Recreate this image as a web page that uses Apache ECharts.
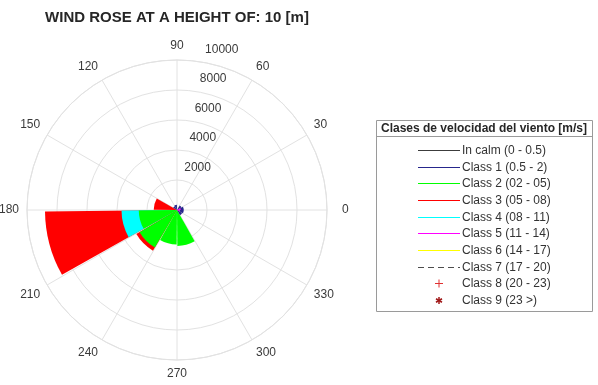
<!DOCTYPE html>
<html>
<head>
<meta charset="utf-8">
<script src="https://cdn.jsdelivr.net/npm/echarts@6/dist/echarts.min.js"></script>
<style>
  html, body { margin: 0; padding: 0; background: #ffffff; }
  #chart { width: 598px; height: 385px; }
</style>
</head>
<body>
<div id="chart"></div>
<script>
// Direction bins (degrees, counter-clockwise from east), 30° each
const directionBins = ['0-30', '30-60', '60-90', '90-120', '120-150', '150-180',
                       '180-210', '210-240', '240-270', '270-300', '300-330', '330-360'];
const radiusMax = 10000;
const radiusStep = 2000;
const angleStep = 30;

// Counts per wind-speed class in each direction bin
const calm   = [0, 0, 0, 0, 0, 0, 0, 0, 0, 0, 0, 0];
const class1 = [450, 350, 0, 350, 300, 0, 0, 0, 0, 0, 400, 450];
const class2 = [0, 0, 0, 0, 0, 0, 2550, 2900, 2300, 2400, 0, 0];
const class3 = [0, 0, 0, 0, 0, 1550, 8800, 3150, 0, 0, 0, 0];
const class4 = [0, 0, 0, 0, 0, 0, 3700, 0, 0, 0, 0, 0];
const class5 = [250, 0, 0, 0, 0, 0, 0, 0, 0, 0, 0, 200];
const class6 = [0, 0, 0, 0, 0, 0, 0, 0, 0, 0, 0, 0];
const class7 = [0, 0, 0, 0, 0, 0, 0, 0, 0, 0, 0, 0];
const class8 = [0, 0, 0, 0, 0, 0, 0, 0, 0, 0, 0, 0];
const class9 = [0, 0, 0, 0, 0, 0, 0, 0, 0, 0, 0, 0];

const classNames = [
  'In calm (0 - 0.5)', 'Class 1 (0.5 - 2)', 'Class 2 (02 - 05)', 'Class 3 (05 - 08)',
  'Class 4 (08 - 11)', 'Class 5 (11 - 14)', 'Class 6 (14 - 17)', 'Class 7 (17 - 20)',
  'Class 8 (20 - 23)', 'Class 9 (23 >)'
];
const classData = [calm, class1, class2, class3, class4, class5, class6, class7, class8, class9];
const classColors = ['#3c3c3c', '#26268c', '#00ff00', '#ff0000', '#00ffff',
                     '#ff00ff', '#ffff00', '#4d4d4d', '#e03030', '#a01818'];
const legendKind = ['line', 'line', 'line', 'line', 'line', 'line', 'line', 'dash', 'plus', 'star'];

// Sectors overlap; classes listed back to front
const drawOrder = [3, 4, 2, 0, 1, 5, 6, 7, 8, 9];

const titleText = 'WIND ROSE AT A HEIGHT OF: 10 [m]';
const legendTitle = 'Clases de velocidad del viento [m/s]';

const gridColor = '#e2e2e2';
const labelColor = '#3a3a3a';
const fontFamily = '"Liberation Sans", Arial, sans-serif';
const center = [177, 210];
const plotRadius = 150;

const chart = echarts.init(document.getElementById('chart'), null, { renderer: 'canvas' });

const series = classData.map(function (values, i) {
  return {
    type: 'bar',
    name: classNames[i],
    coordinateSystem: 'polar',
    polarIndex: 2,
    data: values,
    barGap: '-100%',
    barCategoryGap: '4%',
    z: 2 + drawOrder.indexOf(i),
    itemStyle: { color: classColors[i] },
    silent: true
  };
});

// Legend box drawn as graphics
const legendGraphics = [];
const lg = { x: 376, y: 120, w: 216, h: 191, headH: 16, lineX0: 418, lineX1: 460, textX: 462, rowY0: 150, rowDy: 16.65 };
legendGraphics.push({
  type: 'rect', shape: { x: lg.x + 0.5, y: lg.y + 0.5, width: lg.w, height: lg.h },
  style: { fill: '#ffffff', stroke: '#9a9a9a', lineWidth: 1 }, z: 10
});
legendGraphics.push({
  type: 'line', shape: { x1: lg.x, y1: lg.y + lg.headH + 0.5, x2: lg.x + lg.w, y2: lg.y + lg.headH + 0.5 },
  style: { stroke: '#9a9a9a', lineWidth: 1 }, z: 11
});
legendGraphics.push({
  type: 'text', x: lg.x + lg.w / 2, y: lg.y + lg.headH / 2 + 1, z: 11,
  style: { text: legendTitle, align: 'center', verticalAlign: 'middle', fill: '#262626',
           font: 'bold 12px ' + fontFamily }
});
classNames.forEach(function (name, i) {
  const y = Math.round(lg.rowY0 + i * lg.rowDy) + 0.5;
  const kind = legendKind[i];
  const col = classColors[i];
  if (kind === 'line' || kind === 'dash') {
    legendGraphics.push({
      type: 'line', z: 11,
      shape: { x1: lg.lineX0, y1: y, x2: lg.lineX1, y2: y },
      style: { stroke: col, lineWidth: 1.2, lineDash: kind === 'dash' ? [6, 4] : null }
    });
  } else if (kind === 'plus') {
    const cx = (lg.lineX0 + lg.lineX1) / 2;
    legendGraphics.push({ type: 'line', z: 11, shape: { x1: cx - 4, y1: y, x2: cx + 4, y2: y }, style: { stroke: col, lineWidth: 1 } });
    legendGraphics.push({ type: 'line', z: 11, shape: { x1: cx, y1: y - 4, x2: cx, y2: y + 4 }, style: { stroke: col, lineWidth: 1 } });
  } else if (kind === 'star') {
    const cx = (lg.lineX0 + lg.lineX1) / 2;
    [0, 60, 120].forEach(function (a) {
      const r = a * Math.PI / 180, d = 3.5;
      legendGraphics.push({ type: 'line', z: 11,
        shape: { x1: cx - d * Math.sin(r), y1: y - d * Math.cos(r), x2: cx + d * Math.sin(r), y2: y + d * Math.cos(r) },
        style: { stroke: col, lineWidth: 1.5 } });
    });
  }
  legendGraphics.push({
    type: 'text', x: lg.textX, y: y, z: 11,
    style: { text: name, align: 'left', verticalAlign: 'middle', fill: '#333333', font: '12px ' + fontFamily }
  });
});

const option = {
  animation: false,
  backgroundColor: '#ffffff',
  textStyle: { fontFamily: fontFamily },
  title: {
    text: titleText,
    left: center[0],
    top: 10,
    padding: 0,
    textAlign: 'center',
    textStyle: { fontSize: 15, fontWeight: 'bold', color: '#262626', fontFamily: fontFamily }
  },
  polar: [
    { center: center, radius: plotRadius },
    { center: center, radius: plotRadius },
    { center: center, radius: plotRadius }
  ],
  angleAxis: [
    {
      polarIndex: 0, type: 'value', min: 0, max: 360, interval: angleStep,
      startAngle: 0, clockwise: false,
      axisLine: { lineStyle: { color: gridColor, width: 1 } },
      axisTick: { show: false },
      axisLabel: {
        margin: 8, fontSize: 12, color: labelColor, fontFamily: fontFamily,
        formatter: function (v) {
          if (v >= 360) return '';
          return v === 0 ? '{east|0}' : String(v);
        },
        rich: { east: { fontSize: 12, color: labelColor, padding: [0, 0, 0, 7] } }
      },
      splitLine: { lineStyle: { color: gridColor, width: 1 } }
    },
    { polarIndex: 1, type: 'value', min: 0, max: 360, startAngle: 80, clockwise: false, show: false },
    {
      polarIndex: 2, type: 'category', data: directionBins, startAngle: 0, clockwise: false,
      axisLine: { show: false }, axisTick: { show: false }, axisLabel: { show: false }, splitLine: { show: false }
    }
  ],
  radiusAxis: [
    {
      polarIndex: 0, type: 'value', min: 0, max: radiusMax, interval: radiusStep,
      axisLine: { show: false }, axisTick: { show: false }, axisLabel: { show: false },
      splitLine: { lineStyle: { color: gridColor, width: 1 } }
    },
    {
      polarIndex: 1, type: 'value', min: 0, max: radiusMax, interval: radiusStep,
      axisLine: { show: false }, axisTick: { show: false }, splitLine: { show: false },
      axisLabel: {
        showMinLabel: false, margin: 0, align: 'left', verticalAlign: 'bottom',
        padding: [0, 0, 7, 2], fontSize: 12, color: labelColor, fontFamily: fontFamily,
        formatter: function (v) { return String(v); }
      }
    },
    { polarIndex: 2, type: 'value', min: 0, max: radiusMax, show: false }
  ],
  series: series,
  graphic: legendGraphics
};

chart.setOption(option);
</script>
</body>
</html>
